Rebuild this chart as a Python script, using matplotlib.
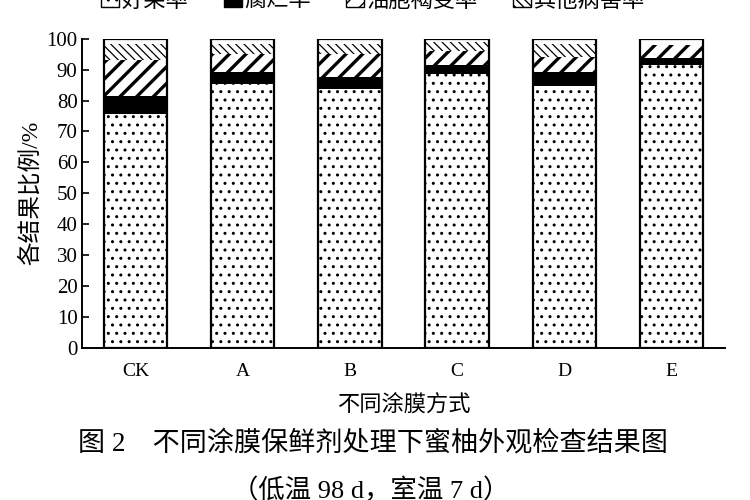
import matplotlib.pyplot as plt
from matplotlib.patches import Patch

plt.rcParams['font.family'] = ['Liberation Serif', 'Noto Sans CJK SC', 'DejaVu Sans']
plt.rcParams['hatch.linewidth'] = 1.0

# Datos (%)
groups = ['CK', 'A', 'B', 'C', 'D', 'E']
good = [75.5, 85.5, 83.6, 88.5, 84.7, 91.5]
rot = [6.0, 3.6, 4.1, 3.0, 4.5, 2.3]
chill = [11.5, 6.1, 7.5, 4.5, 4.8, 4.1]
other = [5.4, 3.0, 3.0, 2.8, 4.3, 0.0]
total = [100] * len(groups)

labels = ['好果率', '腐烂率', '油胞褐变率', '其他病害率']
hatches = ['..', None, '//', '\\\\\\\\']
fills = ['white', 'black', 'white', 'white']
hatch_lw = [1.0, 1.0, 2.4, 0.9]

fig = plt.figure(figsize=(7.5, 5), dpi=100)
ax = fig.add_axes([0.109, 0.304, 0.858, 0.6186])

x = list(range(len(groups)))
width = 0.59
bottom = [0.0] * len(groups)
for vals, h, fc, hl in zip([good, rot, chill, other], hatches, fills, hatch_lw):
    bars = ax.bar(x, vals, width, bottom=bottom, color=fc, edgecolor='black',
                  linewidth=0, hatch=h)
    for b in bars:
        if hasattr(b, 'set_hatch_linewidth'):
            b.set_hatch_linewidth(hl)
    bottom = [a + v for a, v in zip(bottom, vals)]

# marco de cada barra
ax.bar(x, total, width, fill=False, edgecolor='black', linewidth=1.6)

ax.set_xlim(-0.5, 5.5)
ax.set_ylim(0, 100)
ax.set_yticks(range(0, 101, 10))
ax.set_xticks(x)
ax.set_xticklabels(groups)
ax.tick_params(axis='y', direction='in', length=5, width=1.2, pad=3, labelsize=15)
ax.tick_params(axis='x', length=0, pad=11, labelsize=14)
for s in ['top', 'right']:
    ax.spines[s].set_visible(False)
for s in ['left', 'bottom']:
    ax.spines[s].set_linewidth(1.4)

ax.set_ylabel('各结果比例/%', fontsize=17, labelpad=3)
ax.set_xlabel('不同涂膜方式', fontsize=16, labelpad=11)

handles = []
for h, fc in zip(hatches, fills):
    handles.append(Patch(facecolor=fc, edgecolor='black', hatch=h, linewidth=1))
fig.legend(handles, labels, loc='center', bbox_to_anchor=(0.497, 0.998), ncol=4,
           frameon=False, fontsize=16, handlelength=0.8, handleheight=0.8,
           handletextpad=0.1, columnspacing=1.6)

fig.text(0.497, 0.112, '图 2　不同涂膜保鲜剂处理下蜜柚外观检查结果图', ha='center', va='center', fontsize=19.5)
fig.text(0.494, 0.02, '（低温 98 d，室温 7 d）', ha='center', va='center', fontsize=19)

fig.savefig('out.png', dpi=100)
